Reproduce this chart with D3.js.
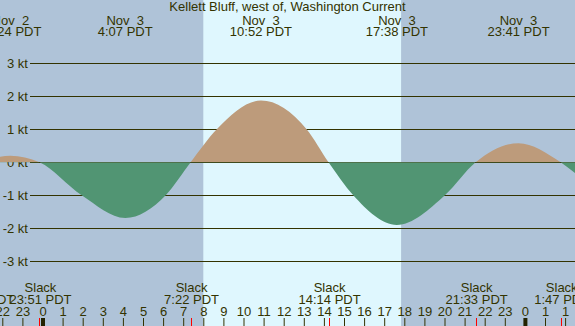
<!DOCTYPE html>
<html>
<head>
<meta charset="utf-8">
<script src="https://cdn.jsdelivr.net/npm/d3@7"></script>
<style>
  body { margin: 0; background: #fff; }
  svg text { font-family: "Liberation Sans", Arial, sans-serif; font-size: 13px; fill: #333300; white-space: pre; }
</style>
</head>
<body>
<svg id="chart" width="575" height="326"></svg>
<script>
// hours are relative to Nov 3 00:00 PDT
const title = "Kellett Bluff, west of, Washington Current";
const dayHours = [8.0, 17.84];

const curveHours = [-3.0, -2.11, -1.6, -0.15, 1.95, 4.12, 6.13, 7.37, 8.67, 10.87, 13.14, 14.23, 15.46, 17.63, 20.02, 21.55, 23.68, 25.78, 26.5];
const curveKnots = [0, 0.17, 0.2, 0, -1, -1.69, -1, 0, 1, 1.87, 1, 0, -1, -1.9, -1, 0, 0.58, 0, -0.33];

const peakHours = [-1.6, 4.117, 10.867, 17.633, 23.683];
const peakDays = ["Nov  2", "Nov  3", "Nov  3", "Nov  3", "Nov  3"];
const peakTimes = ["22:24 PDT", "4:07 PDT", "10:52 PDT", "17:38 PDT", "23:41 PDT"];

const slackHours = [-3.0, -0.15, 7.367, 14.233, 21.55, 25.783];
const slackTimes = ["21:00 PDT", "23:51 PDT", "7:22 PDT", "14:14 PDT", "21:33 PDT", "1:47 PDT"];

const ktTicks = [-3, -2, -1, 0, 1, 2, 3];
const hourTicks = d3.range(-2, 27);
const hourLabels = ["22", "23", "0", "1", "2", "3", "4", "5", "6", "7", "8", "9", "10", "11", "12",
  "13", "14", "15", "16", "17", "18", "19", "20", "21", "22", "23", "0", "1", "1"];
const midnightHours = [0, 24];

const W = 575, H = 326;
const svg = d3.select("#chart");

const x = d3.scaleLinear().domain([0, 24]).range([42.5, 524.9]);
const y = d3.scaleLinear().domain([-3, 3]).range([261.3, 63.3]);

// night / day background
svg.append("rect").attr("width", W).attr("height", H).attr("fill", "#afc3d8");
svg.append("rect")
  .attr("x", x(dayHours[0])).attr("y", 0)
  .attr("width", x(dayHours[1]) - x(dayHours[0])).attr("height", H)
  .attr("fill", "#dff7fe");

// grid lines + kt labels
svg.append("g").selectAll("line").data(ktTicks).join("line")
  .attr("x1", 30).attr("x2", W)
  .attr("y1", d => Math.round(y(d)) + 0.5).attr("y2", d => Math.round(y(d)) + 0.5)
  .attr("stroke", "#333300").attr("stroke-width", 1);
svg.append("g").selectAll("text").data(ktTicks).join("text")
  .attr("x", 28).attr("y", d => y(d) + 4.7)
  .attr("text-anchor", "end")
  .text(d => `${d} kt`);

// current area, split at zero
const pts = curveHours.map((h, i) => [h, curveKnots[i]]);
const area = d3.area()
  .x(d => x(d[0]))
  .y0(y(0))
  .y1(d => y(d[1]))
  .curve(d3.curveMonotoneX);

const defs = svg.append("defs");
defs.append("clipPath").attr("id", "above")
  .append("rect").attr("x", 0).attr("y", 0).attr("width", W).attr("height", y(0));
defs.append("clipPath").attr("id", "below")
  .append("rect").attr("x", 0).attr("y", y(0)).attr("width", W).attr("height", H - y(0));

svg.append("path").datum(pts).attr("d", area)
  .attr("fill", "#bd9b7b").attr("clip-path", "url(#above)");
svg.append("path").datum(pts).attr("d", area)
  .attr("fill", "#519573").attr("clip-path", "url(#below)");

// title
svg.append("text").attr("x", W / 2).attr("y", 11.4)
  .attr("text-anchor", "middle").text(title);

// max current labels
const peaks = svg.append("g").selectAll("g").data(peakHours).join("g");
peaks.append("text").attr("x", d => x(d)).attr("y", 24.7)
  .attr("text-anchor", "middle").text((d, i) => peakDays[i]);
peaks.append("text").attr("x", d => x(d)).attr("y", 36.4)
  .attr("text-anchor", "middle").text((d, i) => peakTimes[i]);

// slack labels
const slacks = svg.append("g").selectAll("g").data(slackHours).join("g");
slacks.append("text").attr("x", d => x(d) + 1).attr("y", 292.4)
  .attr("text-anchor", "middle").text("Slack");
slacks.append("text").attr("x", d => x(d) + 1).attr("y", 304)
  .attr("text-anchor", "middle").text((d, i) => slackTimes[i]);

// hour axis along the bottom
const hourAxis = d3.axisTop(x)
  .tickValues(hourTicks)
  .tickSize(8)
  .tickPadding(2)
  .tickFormat((d, i) => hourLabels[i]);
const ax = svg.append("g").attr("transform", `translate(0,${H})`).call(hourAxis);
ax.select(".domain").remove();
ax.selectAll(".tick line").attr("stroke", "#333300");
ax.selectAll(".tick text")
  .attr("fill", "#333300")
  .style("font-family", "Liberation Sans, Arial, sans-serif")
  .style("font-size", "13px");

// slack markers
svg.append("g").selectAll("line").data(slackHours).join("line")
  .attr("x1", d => Math.round(x(d)) + 0.5).attr("x2", d => Math.round(x(d)) + 0.5)
  .attr("y1", H - 8).attr("y2", H)
  .attr("stroke", "#ff0000");

// midnight markers
svg.append("g").selectAll("rect").data(midnightHours).join("rect")
  .attr("x", d => x(d) - 1.5).attr("y", H - 8)
  .attr("width", 4).attr("height", 8)
  .attr("fill", "#222200");
</script>
</body>
</html>
